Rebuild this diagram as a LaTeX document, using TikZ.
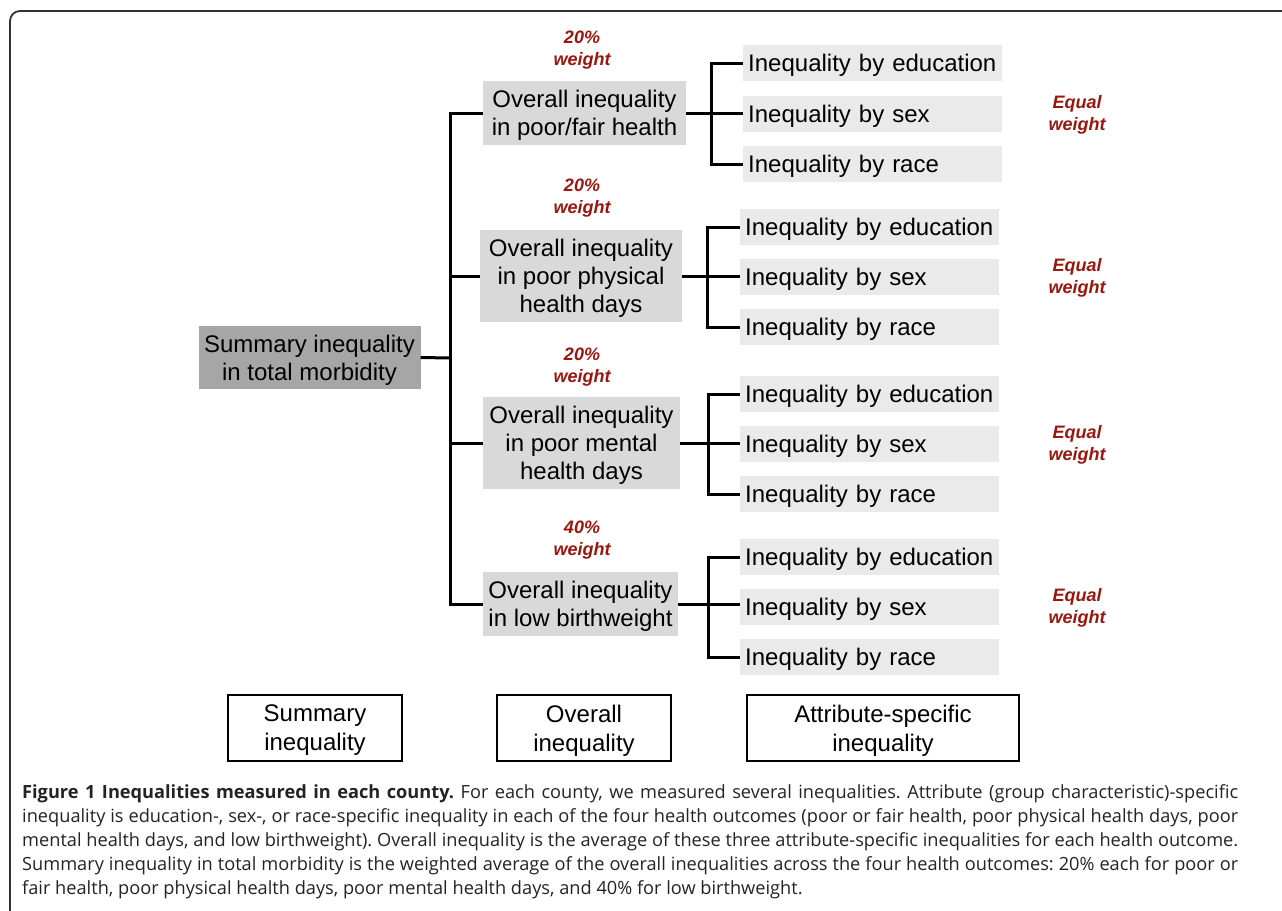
\documentclass[tikz,border=0pt]{standalone}
\usepackage{fontspec}
\setmainfont{Liberation Sans}
\newfontfamily\capfont{Open Sans}
\definecolor{sumgray}{RGB}{166,166,166}
\definecolor{ovgray}{RGB}{217,217,217}
\definecolor{leafgray}{RGB}{234,234,234}
\definecolor{wred}{RGB}{155,22,14}
\definecolor{captxt}{RGB}{35,35,35}
\definecolor{framec}{RGB}{50,50,50}
\tikzset{
  sumbox/.style={fill=sumgray, inner sep=0pt, text depth=0pt, align=center, font=\fontsize{24}{28}\selectfont},
  ovbox/.style={fill=ovgray, inner sep=0pt, text depth=0pt, align=center, font=\fontsize{24}{28}\selectfont},
  leaf/.style={fill=leafgray, anchor=west, inner xsep=5pt, inner ysep=0pt, text depth=0pt, minimum height=36pt, text width=249pt, align=left, font=\fontsize{24}{28}\selectfont},
  wlabel/.style={text=wred, align=center, font=\fontsize{18}{22}\selectfont\bfseries\itshape},
  legbox/.style={draw=black, line width=1.3pt, fill=white, minimum height=66pt, inner sep=0pt, text depth=0pt, align=center, font=\fontsize{24}{29}\selectfont},
  conn/.style={line width=3pt, black},
}
\begin{document}
\frenchspacing
\begin{tikzpicture}[x=1pt,y=-1pt]
\useasboundingbox (0,0) rectangle (1282,910);
% frame
\draw[framec, line width=1.8pt, rounded corners=10pt] (10,912) -- (10,11) -- (1284,11);

% summary
\node[sumbox, minimum width=222pt, minimum height=63pt] (sum) at (309.5,357.5) {Summary inequality\\in total morbidity};
\coordinate (t) at (450,358);

% overall boxes
\node[ovbox, minimum width=203pt, minimum height=64pt] (g1) at (584.5,113) {Overall inequality\\in poor/fair health};
\node[ovbox, minimum width=202pt, minimum height=92pt] (g2) at (581,276) {Overall inequality\\in poor physical\\health days};
\node[ovbox, minimum width=197pt, minimum height=92pt] (g3) at (581.5,443) {Overall inequality\\in poor mental\\health days};
\node[ovbox, minimum width=195pt, minimum height=64pt] (g4) at (580.5,604) {Overall inequality\\in low birthweight};

% weight labels
\node[wlabel] (w1) at (582,50) {20\%\\weight};
\node[wlabel] (w2) at (582,198.5) {20\%\\weight};
\node[wlabel] (w3) at (582,367) {20\%\\weight};
\node[wlabel] (w4) at (582,540) {40\%\\weight};

% leaves
\node[leaf] (g1e) at (743,63) {Inequality by education};
\node[leaf] (g1s) at (743,114) {Inequality by sex};
\node[leaf] (g1r) at (743,164) {Inequality by race};
\node[leaf] (g2e) at (740,227) {Inequality by education};
\node[leaf] (g2s) at (740,277) {Inequality by sex};
\node[leaf] (g2r) at (740,327) {Inequality by race};
\node[leaf] (g3e) at (740,394) {Inequality by education};
\node[leaf] (g3s) at (740,444) {Inequality by sex};
\node[leaf] (g3r) at (740,494) {Inequality by race};
\node[leaf] (g4e) at (740,557) {Inequality by education};
\node[leaf] (g4s) at (740,607) {Inequality by sex};
\node[leaf] (g4r) at (740,657) {Inequality by race};

% equal weight labels
\node[wlabel] (e1) at (1077,115) {Equal\\weight};
\node[wlabel] (e2) at (1077,278) {Equal\\weight};
\node[wlabel] (e3) at (1077,445) {Equal\\weight};
\node[wlabel] (e4) at (1077,608) {Equal\\weight};

% trunk connectors
\draw[conn] (sum.east) -- (t);
\draw[conn] (g1.west) -| (t) |- (g4.west);
\draw[conn] (g2.west) -- (g2.west -| t);
\draw[conn] (g3.west) -- (g3.west -| t);

% branch connectors
\coordinate (b1) at (711,113);
\coordinate (b2) at (707,276);
\coordinate (b3) at (708,443);
\coordinate (b4) at (708,604);
\draw[conn] (g1e.west) -| (b1) |- (g1r.west);
\draw[conn] (g1.east) -- (g1.east -| g1s.west);
\draw[conn] (g2e.west) -| (b2) |- (g2r.west);
\draw[conn] (g2.east) -- (g2.east -| g2s.west);
\draw[conn] (g3e.west) -| (b3) |- (g3r.west);
\draw[conn] (g3.east) -- (g3.east -| g3s.west);
\draw[conn] (g4e.west) -| (b4) |- (g4r.west);
\draw[conn] (g4.east) -- (g4.east -| g4s.west);

% legend
\node[legbox, minimum width=174pt] (l1) at (315,728) {Summary\\inequality};
\node[legbox, minimum width=174pt] (l2) at (584,728) {Overall\\inequality};
\node[legbox, minimum width=272pt] (l3) at (883,728) {Attribute-specific\\inequality};

% caption
\node[anchor=north west, inner sep=0pt, text=captxt, align=left, font=\capfont\fontsize{18.2}{24}\selectfont] (cap) at (22,784) {%
\makebox[1216pt][s]{\textbf{Figure 1 Inequalities measured in each county.} For each county, we measured several inequalities. Attribute (group characteristic)-specific}\\
\makebox[1216pt][s]{inequality is education-, sex-, or race-specific inequality in each of the four health outcomes (poor or fair health, poor physical health days, poor}\\
\makebox[1216pt][s]{mental health days, and low birthweight). Overall inequality is the average of these three attribute-specific inequalities for each health outcome.}\\
\makebox[1216pt][s]{Summary inequality in total morbidity is the weighted average of the overall inequalities across the four health outcomes: 20\% each for poor or}\\
fair health, poor physical health days, poor mental health days, and 40\% for low birthweight.};
\end{tikzpicture}
\end{document}
